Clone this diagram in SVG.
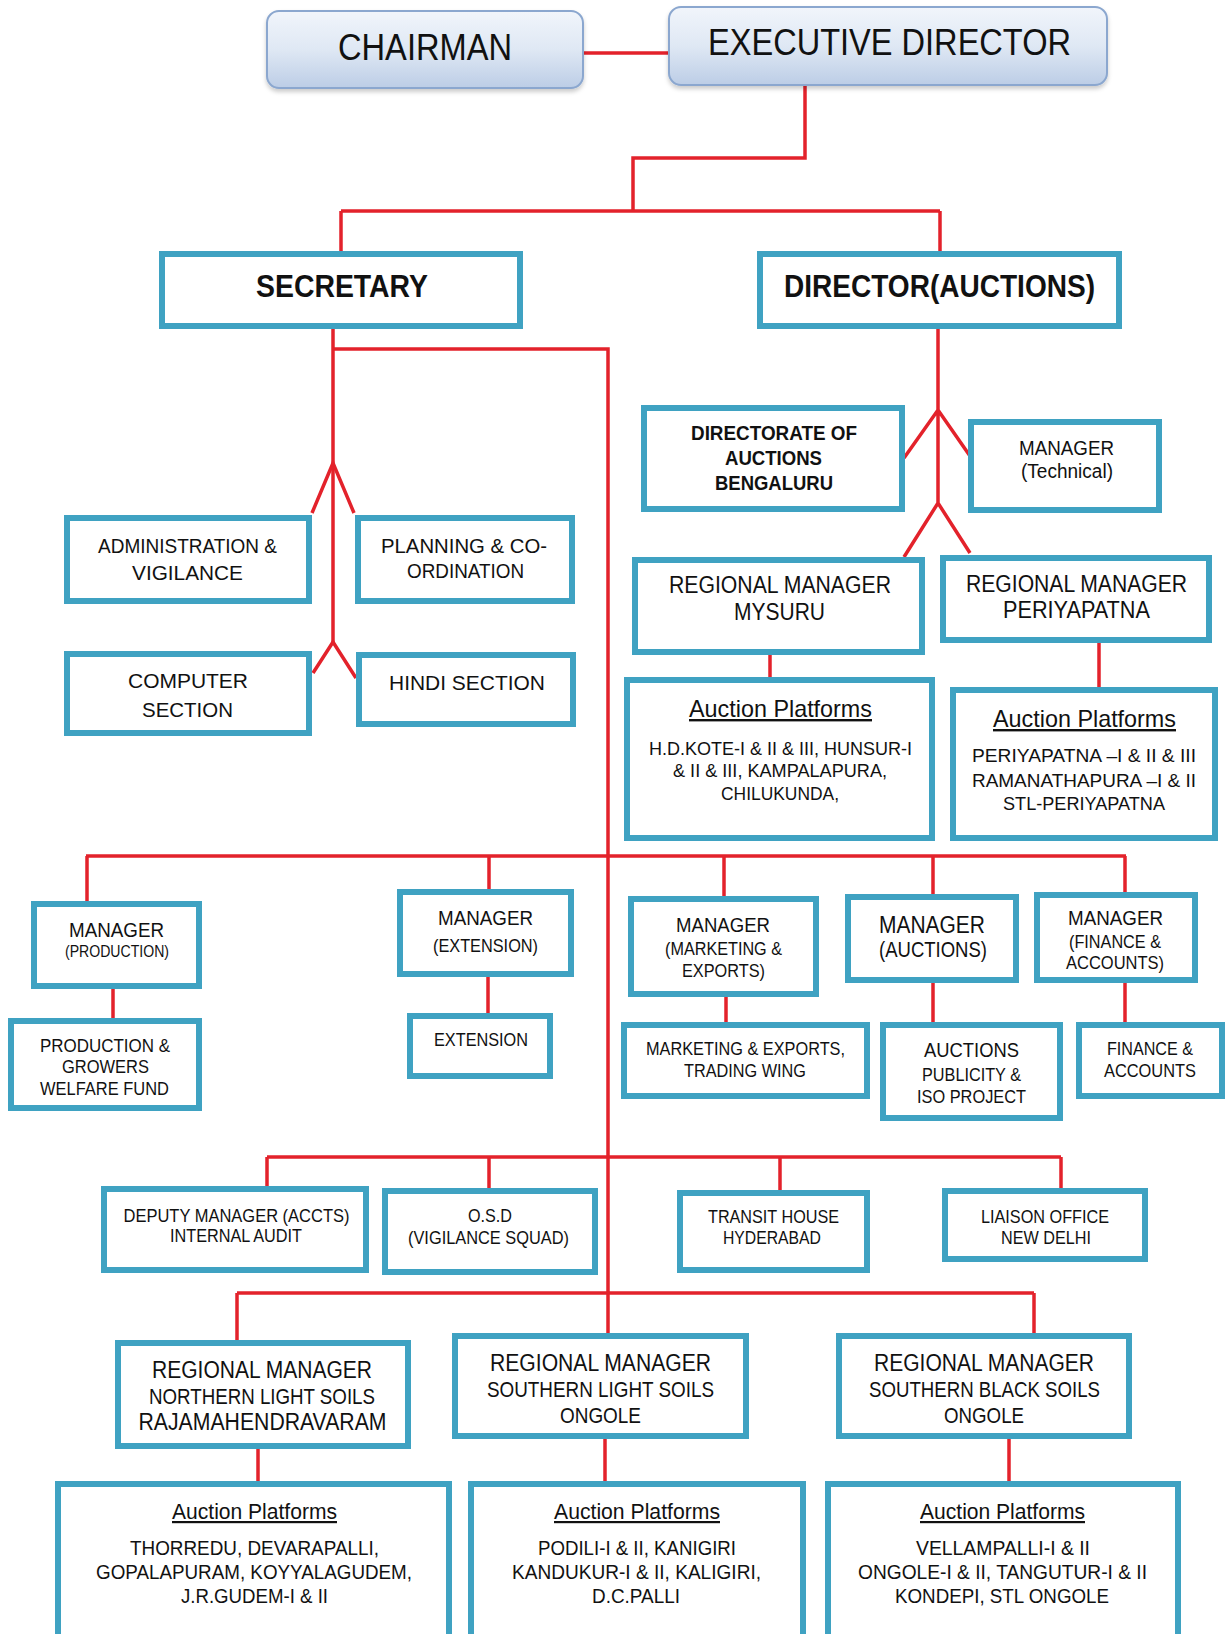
<svg xmlns="http://www.w3.org/2000/svg" width="1226" height="1634" viewBox="0 0 1226 1634">
<defs>
<linearGradient id="gb" x1="0" y1="0" x2="0" y2="1">
<stop offset="0" stop-color="#f1f5fb"/>
<stop offset="0.5" stop-color="#dfe8f4"/>
<stop offset="1" stop-color="#bccde6"/>
</linearGradient>
<filter id="sh" x="-5%" y="-10%" width="110%" height="130%">
<feDropShadow dx="0" dy="3" stdDeviation="2" flood-color="#000" flood-opacity="0.2"/>
</filter>
</defs>
<style>
.box{fill:#fff;stroke:#3fa2c2;stroke-width:6}
.top{fill:url(#gb);stroke:#8ba7cf;stroke-width:2;filter:url(#sh)}
.ln{stroke:#e3222b;stroke-width:3.5;fill:none;stroke-linecap:butt}
text{font-family:"Liberation Sans",Arial,sans-serif;fill:#111;text-anchor:middle}
.b{font-weight:bold}
.u{text-decoration:underline}
</style>
<rect width="1226" height="1634" fill="#fff"/>

<g id="connectors">
<path class="ln" d="M584,53 H668" stroke-width="5"/>
<path class="ln" d="M805,86 V158 H633 V211"/>
<path class="ln" d="M341,211 H940 M341,211 V251 M940,211 V251"/>
<path class="ln" d="M333,329 V642 M333,349 H608 V1333"/>
<path class="ln" d="M312,513 L333,463 L354,513 M313,673 L333,642 L356,678"/>
<path class="ln" d="M938,329 V505 M904,458 L938,410 L970,456 M904,557 L938,503 L970,553"/>
<path class="ln" d="M770,655 V677 M1099,643 V687"/>
<path class="ln" d="M86,856 H1126 M87,856 V901 M489,856 V889 M724,856 V896 M933,856 V894 M1125,856 V892"/>
<path class="ln" d="M113,989 V1018 M488,977 V1013 M726,997 V1022 M933,983 V1022 M1125,983 V1022"/>
<path class="ln" d="M267,1157 H1061 M267,1157 V1186 M489,1157 V1188 M780,1157 V1190 M1061,1157 V1188"/>
<path class="ln" d="M237,1293 H1034 M237,1293 V1340 M1034,1293 V1333"/>
<path class="ln" d="M258,1449 V1481 M605,1439 V1481 M1009,1439 V1481"/>
</g>

<g id="chairman">
<rect class="top" x="267" y="11" width="316" height="77" rx="12"/>
<text x="425" y="60" font-size="37" textLength="174" lengthAdjust="spacingAndGlyphs">CHAIRMAN</text>
</g>
<g id="executive-director">
<rect class="top" x="669" y="7" width="438" height="78" rx="12"/>
<text x="889.5" y="55" font-size="36" textLength="363" lengthAdjust="spacingAndGlyphs">EXECUTIVE DIRECTOR</text>
</g>
<g id="secretary">
<rect class="box" x="162" y="254" width="358" height="72"/>
<text class="b" x="342" y="297" font-size="32" textLength="172" lengthAdjust="spacingAndGlyphs">SECRETARY</text>
</g>
<g id="director-auctions">
<rect class="box" x="760" y="254" width="359" height="72"/>
<text class="b" x="939.5" y="297" font-size="32" textLength="311" lengthAdjust="spacingAndGlyphs">DIRECTOR(AUCTIONS)</text>
</g>
<g id="admin-vigilance">
<rect class="box" x="67" y="518" width="242" height="83"/>
<text x="187.5" y="553" font-size="21" textLength="179" lengthAdjust="spacingAndGlyphs">ADMINISTRATION &amp;</text>
<text x="187.5" y="580" font-size="21" textLength="111" lengthAdjust="spacingAndGlyphs">VIGILANCE</text>
</g>
<g id="planning">
<rect class="box" x="358" y="518" width="214" height="83"/>
<text x="464" y="553" font-size="21" textLength="166" lengthAdjust="spacingAndGlyphs">PLANNING &amp; CO-</text>
<text x="465.5" y="578" font-size="21" textLength="117" lengthAdjust="spacingAndGlyphs">ORDINATION</text>
</g>
<g id="computer-section">
<rect class="box" x="67" y="654" width="242" height="79"/>
<text x="188" y="688" font-size="21" textLength="120" lengthAdjust="spacingAndGlyphs">COMPUTER</text>
<text x="187.5" y="717" font-size="21" textLength="91" lengthAdjust="spacingAndGlyphs">SECTION</text>
</g>
<g id="hindi-section">
<rect class="box" x="359" y="655" width="214" height="69"/>
<text x="467" y="690" font-size="21" textLength="156" lengthAdjust="spacingAndGlyphs">HINDI SECTION</text>
</g>
<g id="directorate">
<rect class="box" x="644" y="408" width="258" height="101"/>
<text class="b" x="774" y="440" font-size="21" textLength="166" lengthAdjust="spacingAndGlyphs">DIRECTORATE OF</text>
<text class="b" x="773.5" y="465" font-size="21" textLength="97" lengthAdjust="spacingAndGlyphs">AUCTIONS</text>
<text class="b" x="774" y="490" font-size="21" textLength="118" lengthAdjust="spacingAndGlyphs">BENGALURU</text>
</g>
<g id="manager-technical">
<rect class="box" x="971" y="422" width="188" height="88"/>
<text x="1066.5" y="455" font-size="20" textLength="95" lengthAdjust="spacingAndGlyphs">MANAGER</text>
<text x="1067" y="478" font-size="20" textLength="92" lengthAdjust="spacingAndGlyphs">(Technical)</text>
</g>
<g id="rm-mysuru">
<rect class="box" x="635" y="560" width="287" height="92"/>
<text x="780" y="593" font-size="23" textLength="222" lengthAdjust="spacingAndGlyphs">REGIONAL MANAGER</text>
<text x="779.5" y="620" font-size="23" textLength="91" lengthAdjust="spacingAndGlyphs">MYSURU</text>
</g>
<g id="rm-periyapatna">
<rect class="box" x="943" y="558" width="266" height="82"/>
<text x="1076.5" y="592" font-size="23" textLength="221" lengthAdjust="spacingAndGlyphs">REGIONAL MANAGER</text>
<text x="1076.5" y="618" font-size="23" textLength="147" lengthAdjust="spacingAndGlyphs">PERIYAPATNA</text>
</g>
<g id="ap-mysuru">
<rect class="box" x="627" y="680" width="305" height="158"/>
<text class="u" x="780.5" y="717" font-size="24" textLength="183" lengthAdjust="spacingAndGlyphs">Auction Platforms</text>
<text x="780.5" y="755" font-size="18" textLength="263" lengthAdjust="spacingAndGlyphs">H.D.KOTE-I &amp; II &amp; III,  HUNSUR-I</text>
<text x="780" y="777" font-size="18" textLength="214" lengthAdjust="spacingAndGlyphs">&amp;  II &amp; III, KAMPALAPURA,</text>
<text x="780" y="800" font-size="18" textLength="118" lengthAdjust="spacingAndGlyphs">CHILUKUNDA,</text>
</g>
<g id="ap-periyapatna">
<rect class="box" x="953" y="690" width="262" height="148"/>
<text class="u" x="1084.5" y="727" font-size="24" textLength="183" lengthAdjust="spacingAndGlyphs">Auction Platforms</text>
<text x="1084" y="762" font-size="19" textLength="224" lengthAdjust="spacingAndGlyphs">PERIYAPATNA –I &amp; II &amp; III</text>
<text x="1084" y="787" font-size="19" textLength="224" lengthAdjust="spacingAndGlyphs">RAMANATHAPURA –I &amp; II</text>
<text x="1084" y="810" font-size="19" textLength="162" lengthAdjust="spacingAndGlyphs">STL-PERIYAPATNA</text>
</g>
<g id="manager-production">
<rect class="box" x="34" y="904" width="165" height="82"/>
<text x="116.5" y="937" font-size="21" textLength="95" lengthAdjust="spacingAndGlyphs">MANAGER</text>
<text x="117" y="957" font-size="16" textLength="104" lengthAdjust="spacingAndGlyphs">(PRODUCTION)</text>
</g>
<g id="production-growers">
<rect class="box" x="11" y="1021" width="188" height="87"/>
<text x="105" y="1052" font-size="19" textLength="130" lengthAdjust="spacingAndGlyphs">PRODUCTION  &amp;</text>
<text x="105.5" y="1073" font-size="19" textLength="87" lengthAdjust="spacingAndGlyphs">GROWERS</text>
<text x="104.5" y="1095" font-size="19" textLength="129" lengthAdjust="spacingAndGlyphs">WELFARE FUND</text>
</g>
<g id="manager-extension">
<rect class="box" x="400" y="892" width="171" height="82"/>
<text x="485.5" y="925" font-size="21" textLength="95" lengthAdjust="spacingAndGlyphs">MANAGER</text>
<text x="485.5" y="952" font-size="18" textLength="105" lengthAdjust="spacingAndGlyphs">(EXTENSION)</text>
</g>
<g id="extension">
<rect class="box" x="410" y="1016" width="140" height="60"/>
<text x="481" y="1046" font-size="19" textLength="94" lengthAdjust="spacingAndGlyphs">EXTENSION</text>
</g>
<g id="manager-marketing">
<rect class="box" x="631" y="899" width="185" height="95"/>
<text x="723" y="932" font-size="21" textLength="94" lengthAdjust="spacingAndGlyphs">MANAGER</text>
<text x="723.5" y="955" font-size="19" textLength="117" lengthAdjust="spacingAndGlyphs">(MARKETING &amp;</text>
<text x="723.5" y="977" font-size="19" textLength="83" lengthAdjust="spacingAndGlyphs">EXPORTS)</text>
</g>
<g id="marketing-exports">
<rect class="box" x="624" y="1025" width="243" height="71"/>
<text x="745.5" y="1055" font-size="18" textLength="199" lengthAdjust="spacingAndGlyphs">MARKETING &amp; EXPORTS,</text>
<text x="745" y="1077" font-size="18" textLength="122" lengthAdjust="spacingAndGlyphs">TRADING WING</text>
</g>
<g id="manager-auctions">
<rect class="box" x="848" y="897" width="168" height="83"/>
<text x="932" y="933" font-size="23" textLength="106" lengthAdjust="spacingAndGlyphs">MANAGER</text>
<text x="933" y="957" font-size="22" textLength="108" lengthAdjust="spacingAndGlyphs">(AUCTIONS)</text>
</g>
<g id="auctions-publicity">
<rect class="box" x="883" y="1025" width="177" height="93"/>
<text x="971.5" y="1057" font-size="21" textLength="95" lengthAdjust="spacingAndGlyphs">AUCTIONS</text>
<text x="971.5" y="1081" font-size="19" textLength="99" lengthAdjust="spacingAndGlyphs">PUBLICITY &amp;</text>
<text x="971.5" y="1103" font-size="19" textLength="109" lengthAdjust="spacingAndGlyphs">ISO PROJECT</text>
</g>
<g id="manager-finance">
<rect class="box" x="1037" y="895" width="158" height="85"/>
<text x="1115.5" y="925" font-size="20" textLength="95" lengthAdjust="spacingAndGlyphs">MANAGER</text>
<text x="1115" y="948" font-size="18" textLength="92" lengthAdjust="spacingAndGlyphs">(FINANCE &amp;</text>
<text x="1115" y="969" font-size="18" textLength="98" lengthAdjust="spacingAndGlyphs">ACCOUNTS)</text>
</g>
<g id="finance-accounts">
<rect class="box" x="1079" y="1025" width="143" height="71"/>
<text x="1150" y="1055" font-size="19" textLength="86" lengthAdjust="spacingAndGlyphs">FINANCE &amp;</text>
<text x="1150" y="1077" font-size="19" textLength="92" lengthAdjust="spacingAndGlyphs">ACCOUNTS</text>
</g>
<g id="deputy-manager">
<rect class="box" x="104" y="1189" width="262" height="81"/>
<text x="236.5" y="1222" font-size="18" textLength="226" lengthAdjust="spacingAndGlyphs">DEPUTY MANAGER (ACCTS)</text>
<text x="236" y="1242" font-size="18" textLength="132" lengthAdjust="spacingAndGlyphs">INTERNAL AUDIT</text>
</g>
<g id="osd">
<rect class="box" x="385" y="1191" width="210" height="81"/>
<text x="490" y="1222" font-size="18" textLength="44" lengthAdjust="spacingAndGlyphs">O.S.D</text>
<text x="488.5" y="1244" font-size="18" textLength="161" lengthAdjust="spacingAndGlyphs">(VIGILANCE SQUAD)</text>
</g>
<g id="transit-house">
<rect class="box" x="680" y="1193" width="187" height="77"/>
<text x="773.5" y="1223" font-size="18" textLength="131" lengthAdjust="spacingAndGlyphs">TRANSIT HOUSE</text>
<text x="772" y="1244" font-size="18" textLength="98" lengthAdjust="spacingAndGlyphs">HYDERABAD</text>
</g>
<g id="liaison-office">
<rect class="box" x="945" y="1191" width="200" height="68"/>
<text x="1045" y="1223" font-size="18" textLength="128" lengthAdjust="spacingAndGlyphs">LIAISON OFFICE</text>
<text x="1046" y="1244" font-size="18" textLength="90" lengthAdjust="spacingAndGlyphs">NEW DELHI</text>
</g>
<g id="rm-northern">
<rect class="box" x="118" y="1343" width="290" height="103"/>
<text x="262" y="1378" font-size="23" textLength="220" lengthAdjust="spacingAndGlyphs">REGIONAL MANAGER</text>
<text x="262" y="1404" font-size="22" textLength="226" lengthAdjust="spacingAndGlyphs">NORTHERN LIGHT SOILS</text>
<text x="262.5" y="1430" font-size="23" textLength="248" lengthAdjust="spacingAndGlyphs">RAJAMAHENDRAVARAM</text>
</g>
<g id="rm-southern-light">
<rect class="box" x="455" y="1336" width="291" height="100"/>
<text x="600.5" y="1371" font-size="23" textLength="221" lengthAdjust="spacingAndGlyphs">REGIONAL MANAGER</text>
<text x="600.5" y="1397" font-size="22" textLength="227" lengthAdjust="spacingAndGlyphs">SOUTHERN LIGHT SOILS</text>
<text x="600.5" y="1423" font-size="22" textLength="81" lengthAdjust="spacingAndGlyphs">ONGOLE</text>
</g>
<g id="rm-southern-black">
<rect class="box" x="839" y="1336" width="290" height="100"/>
<text x="984" y="1371" font-size="23" textLength="220" lengthAdjust="spacingAndGlyphs">REGIONAL MANAGER</text>
<text x="984.5" y="1397" font-size="22" textLength="231" lengthAdjust="spacingAndGlyphs">SOUTHERN BLACK SOILS</text>
<text x="984" y="1423" font-size="22" textLength="80" lengthAdjust="spacingAndGlyphs">ONGOLE</text>
</g>
<g id="ap-northern">
<rect class="box" x="58" y="1484" width="391" height="200"/>
<text class="u" x="254.5" y="1519" font-size="22" textLength="165" lengthAdjust="spacingAndGlyphs">Auction Platforms</text>
<text x="254.5" y="1555" font-size="20" textLength="249" lengthAdjust="spacingAndGlyphs">THORREDU, DEVARAPALLI,</text>
<text x="254" y="1579" font-size="20" textLength="316" lengthAdjust="spacingAndGlyphs">GOPALAPURAM, KOYYALAGUDEM,</text>
<text x="254.5" y="1603" font-size="20" textLength="147" lengthAdjust="spacingAndGlyphs">J.R.GUDEM-I &amp; II</text>
</g>
<g id="ap-southern-light">
<rect class="box" x="471" y="1484" width="332" height="200"/>
<text class="u" x="637" y="1519" font-size="22" textLength="166" lengthAdjust="spacingAndGlyphs">Auction Platforms</text>
<text x="637" y="1555" font-size="20" textLength="198" lengthAdjust="spacingAndGlyphs">PODILI-I &amp; II, KANIGIRI</text>
<text x="636.5" y="1579" font-size="20" textLength="249" lengthAdjust="spacingAndGlyphs">KANDUKUR-I &amp;  II, KALIGIRI,</text>
<text x="636" y="1603" font-size="20" textLength="88" lengthAdjust="spacingAndGlyphs">D.C.PALLI</text>
</g>
<g id="ap-southern-black">
<rect class="box" x="828" y="1484" width="350" height="200"/>
<text class="u" x="1002.5" y="1519" font-size="22" textLength="165" lengthAdjust="spacingAndGlyphs">Auction Platforms</text>
<text x="1003" y="1555" font-size="20" textLength="174" lengthAdjust="spacingAndGlyphs">VELLAMPALLI-I &amp;  II</text>
<text x="1002.5" y="1579" font-size="20" textLength="289" lengthAdjust="spacingAndGlyphs">ONGOLE-I &amp;  II, TANGUTUR-I &amp; II</text>
<text x="1002" y="1603" font-size="20" textLength="214" lengthAdjust="spacingAndGlyphs">KONDEPI, STL ONGOLE</text>
</g>
</svg>
